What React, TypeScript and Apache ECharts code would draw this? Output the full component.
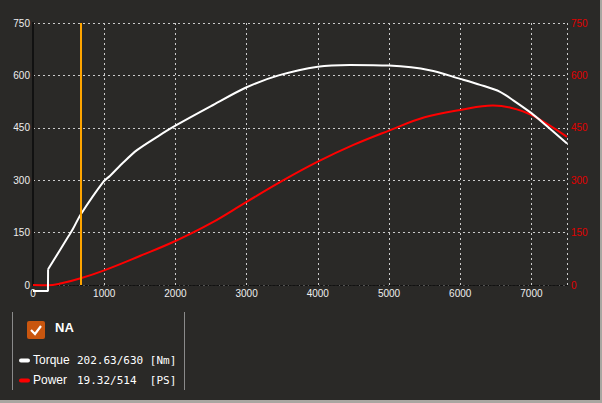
import React, { useEffect, useRef } from "react";
import * as echarts from "echarts";

const torqueStep: [number, number][] = [[0, -17], [210, -17], [212, 45]];
const torqueData: [number, number][] = [
  [212, 45], [500, 140], [560, 160], [670, 202], [990, 296], [1080, 312],
  [1250, 347], [1460, 386], [1750, 425], [2000, 456], [2500, 512],
  [3000, 566], [3450, 600], [4000, 625], [4450, 630], [5000, 628], [5570, 615],
  [6000, 590], [6280, 573], [6560, 553], [6750, 528], [7000, 492], [7200, 458],
  [7500, 405],
];
const powerData: [number, number][] = [
  [0, 0], [210, -1], [400, 5], [670, 19.3], [1000, 42], [1500, 83], [2000, 126],
  [2500, 177], [3000, 238], [3500, 298], [4000, 353], [4500, 401],
  [5000, 442], [5500, 480], [6000, 501], [6460, 514], [6700, 508], [7000, 487],
  [7500, 424],
];
const cursorRpm = 670;
const legendName = "NA";
const torqueLabel = "Torque";
const torqueValue = "202.63/630 [Nm]";
const powerLabel = "Power";
const powerValue = "19.32/514  [PS]";

export default function App() {
  const ref = useRef<HTMLDivElement>(null);
  useEffect(() => {
    const chart = echarts.init(ref.current!, undefined, { renderer: "svg" });
    const sans = "'Liberation Sans', Arial, sans-serif";
    const mono = "'DejaVu Sans Mono', monospace";
    chart.setOption({
      animation: false,
      backgroundColor: "transparent",
      grid: { left: 33, right: 35, top: 23, bottom: 118 },
      xAxis: [
        {
          type: "value",
          min: 0,
          max: 7500,
          interval: 1000,
          axisLine: { show: true, lineStyle: { color: "#111", type: [2, 2], width: 1 } },
          axisTick: { show: false },
          axisLabel: { color: "#eee", fontSize: 10, fontFamily: sans, margin: 3, showMaxLabel: false, formatter: (v: number) => String(v) },
          splitLine: { show: true, lineStyle: { color: "#ccc", type: [2, 3], width: 1 } },
        },
        {
          type: "value",
          position: "top",
          min: 0,
          max: 7500,
          axisLine: { show: true, lineStyle: { color: "#111", type: [2, 2], width: 1 } },
          axisTick: { show: false },
          axisLabel: { show: false },
          splitLine: { show: false },
        },
      ],
      yAxis: [
        {
          type: "value",
          min: 0,
          max: 750,
          interval: 150,
          axisLine: { show: true, lineStyle: { color: "#111", type: [2, 2], width: 1 } },
          axisTick: { show: false },
          axisLabel: { color: "#eee", fontSize: 10, fontFamily: sans, margin: 3 },
          splitLine: { show: true, lineStyle: { color: "#ccc", type: [2, 3], width: 1 } },
        },
        {
          type: "value",
          min: 0,
          max: 750,
          interval: 150,
          position: "right",
          axisLine: { show: true, lineStyle: { color: "#111", width: 2 } },
          axisTick: { show: false },
          axisLabel: { color: "#e00000", fontSize: 10, fontFamily: sans, margin: 4 },
          splitLine: { show: false },
        },
      ],
      series: [
        {
          type: "line",
          data: powerData,
          yAxisIndex: 1,
          showSymbol: false,
          smooth: 0.4,
          clip: false,
          lineStyle: { color: "#ff0000", width: 2 },
          z: 3,
        },
        {
          type: "line",
          data: torqueStep,
          showSymbol: false,
          smooth: false,
          clip: false,
          lineStyle: { color: "#ffffff", width: 2 },
          z: 4,
        },
        {
          type: "line",
          data: torqueData,
          showSymbol: false,
          smooth: 0.3,
          clip: false,
          lineStyle: { color: "#ffffff", width: 2 },
          z: 4,
          markLine: {
            silent: true,
            symbol: "none",
            label: { show: false },
            lineStyle: { color: "#ffa500", width: 2, type: "solid" },
            data: [{ xAxis: cursorRpm }],
          },
        },
      ],
      graphic: [
        { type: "line", shape: { x1: 12.5, y1: 312, x2: 12.5, y2: 390 }, style: { stroke: "#8a8a8a", lineWidth: 1 } },
        { type: "line", shape: { x1: 184.5, y1: 312, x2: 184.5, y2: 390 }, style: { stroke: "#8a8a8a", lineWidth: 1 } },
        { type: "rect", shape: { x: 27, y: 321, width: 18, height: 18, r: 2 }, style: { fill: "#c9560f" } },
        { type: "polyline", shape: { points: [[31, 330], [35, 334], [41, 326]] }, style: { stroke: "#fff", lineWidth: 2.2, fill: "none" } },
        { type: "text", x: 55, y: 327, style: { text: legendName, fill: "#fff", font: `bold 13px ${sans}`, verticalAlign: "middle" } },
        { type: "rect", shape: { x: 19, y: 358.5, width: 11, height: 4, r: 2 }, style: { fill: "#fff" } },
        { type: "text", x: 33, y: 360, style: { text: torqueLabel, fill: "#fff", font: `12px ${sans}`, verticalAlign: "middle" } },
        { type: "text", x: 77, y: 360, style: { text: torqueValue, fill: "#fff", font: `11px ${mono}`, verticalAlign: "middle" } },
        { type: "rect", shape: { x: 19, y: 378.5, width: 11, height: 4, r: 2 }, style: { fill: "#ff0000" } },
        { type: "text", x: 33, y: 380, style: { text: powerLabel, fill: "#fff", font: `12px ${sans}`, verticalAlign: "middle" } },
        { type: "text", x: 77, y: 380, style: { text: powerValue, fill: "#fff", font: `11px ${mono}`, verticalAlign: "middle" } },
      ],
    });
    return () => chart.dispose();
  }, []);
  return (
    <div style={{ position: "fixed", left: 0, top: 0, width: 602, height: 403, background: "#a9a6a1" }}>
      <div style={{ position: "absolute", left: 0, top: 0, width: 600, height: 400, background: "#2a2927" }} />
      <div ref={ref} style={{ position: "absolute", left: 0, top: 0, width: 602, height: 403 }} />
    </div>
  );
}
